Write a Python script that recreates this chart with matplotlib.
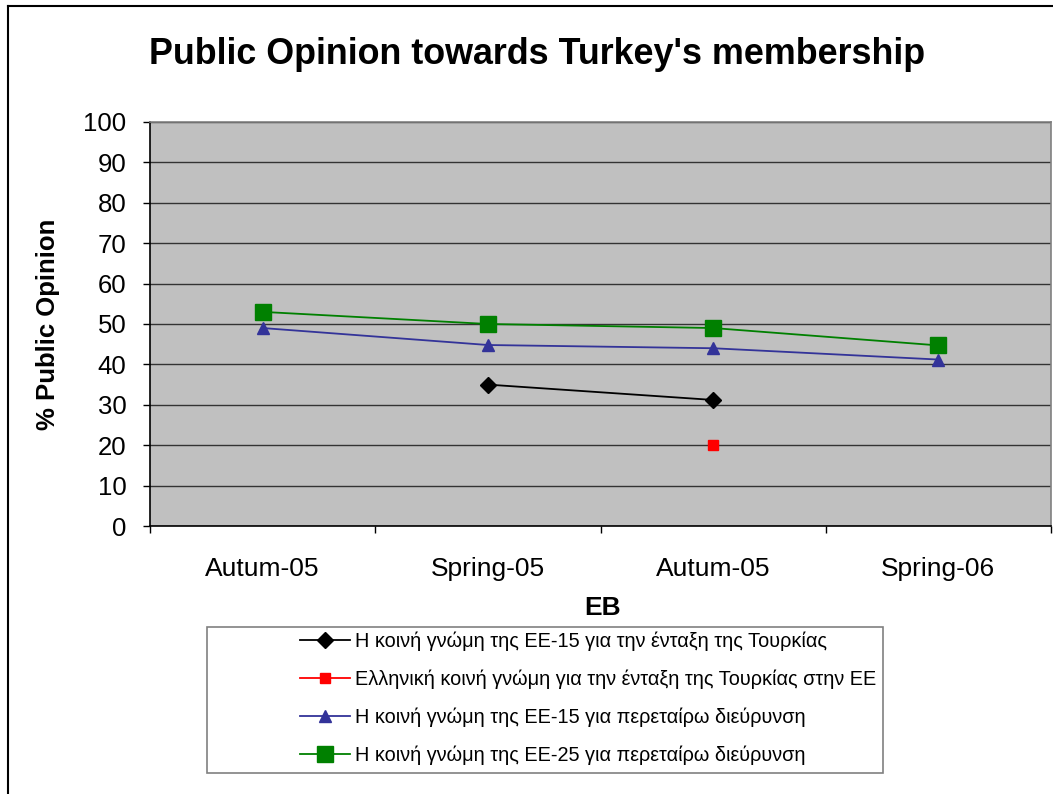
import matplotlib
matplotlib.use("Agg")
import matplotlib.pyplot as plt
from matplotlib.patches import Rectangle
from matplotlib.lines import Line2D
import numpy as np

plt.rcParams['font.family'] = ['Liberation Sans', 'DejaVu Sans']

categories = ["Autum-05", "Spring-05", "Autum-05", "Spring-06"]
eu15_turkey = [np.nan, 35, 31.2, np.nan]
greek_turkey = [np.nan, np.nan, 20.1, np.nan]
eu15_enlarge = [49, 44.8, 44, 41.2]
eu25_enlarge = [53, 50, 49, 44.7]
labels = [
    "Η κοινή γνώμη της ΕΕ-15 για την ένταξη της Τουρκίας",
    "Ελληνική κοινή γνώμη για την ένταξη της Τουρκίας στην ΕΕ",
    "Η κοινή γνώμη της ΕΕ-15 για περεταίρω διεύρυνση",
    "Η κοινή γνώμη της ΕΕ-25 για περεταίρω διεύρυνση",
]
yticks = list(range(0, 101, 10))

W, H = 1053, 794
fig = plt.figure(figsize=(W / 100, H / 100), dpi=100)
ax = fig.add_axes([150 / W, 1 - 526 / H, (1051 - 150) / W, (526 - 122) / H])
ax.set_facecolor('#C0C0C0')

x = np.arange(len(categories))
l1, = ax.plot(x, eu15_turkey, color='black', marker='D', markersize=8, lw=1.3, label=labels[0])
l2, = ax.plot(x, greek_turkey, color='#FF0000', marker='s', markersize=7, lw=1.3, label=labels[1])
l3, = ax.plot(x, eu15_enlarge, color='#333399', marker='^', markersize=9, lw=1.3, label=labels[2])
l4, = ax.plot(x, eu25_enlarge, color='#008000', marker='s', markersize=11.5, lw=1.3, label=labels[3])

ax.set_xlim(-0.5, len(categories) - 0.5)
ax.set_ylim(0, 100)
ax.set_yticks(yticks)
ax.set_yticklabels([str(v) for v in yticks], fontsize=18.5)
ax.set_xticks(x)
ax.set_xticklabels(categories, fontsize=19)
ax.set_xticks(np.arange(-0.5, len(categories)), minor=True)
ax.tick_params(axis='x', which='major', length=0, pad=22)
ax.tick_params(axis='x', which='minor', length=5, width=1, direction='out', color='black')
ax.tick_params(axis='y', which='major', length=5, width=1, direction='out', pad=12)

ax.grid(axis='y', color='#333333', lw=1)
ax.set_axisbelow(True)
for s in ['top', 'right']:
    ax.spines[s].set_color('#808080')
    ax.spines[s].set_linewidth(1.2)
for s in ['left', 'bottom']:
    ax.spines[s].set_color('black')
    ax.spines[s].set_linewidth(1.2)

ax.set_ylabel('% Public Opinion', fontsize=18.5, fontweight='bold')
ax.yaxis.set_label_coords((60 - 150) / 901, 0.5)
ax.set_xlabel('EB', fontsize=19, fontweight='bold')
ax.xaxis.set_label_coords((603 - 150) / 901, (526 - 596) / 404)

fig.text(537 / W, 1 - 55 / H, "Public Opinion towards Turkey's membership",
         fontsize=25.8, fontweight='bold', ha='center', va='center')

# legend box
fig.patches.append(Rectangle((207 / W, 1 - 773 / H), (883 - 207) / W, (773 - 627) / H,
                             transform=fig.transFigure, facecolor='white',
                             edgecolor='#808080', lw=1.2, zorder=1))
leg = fig.legend(handles=[l1, l2, l3, l4], loc='upper left',
                 bbox_to_anchor=(284 / W, 1 - 616 / H), frameon=False,
                 fontsize=14.3, labelspacing=0.92, handlelength=2.5, handletextpad=0.25,
                 borderpad=0.3)
leg.set_zorder(2)

# figure border
fig.add_artist(Line2D([8 / W, 8 / W], [0, 1 - 6 / H], color='black', lw=1.5, transform=fig.transFigure))
fig.add_artist(Line2D([8 / W, 1], [1 - 6 / H, 1 - 6 / H], color='black', lw=1.5, transform=fig.transFigure))

fig.savefig('out.png', dpi=100)
